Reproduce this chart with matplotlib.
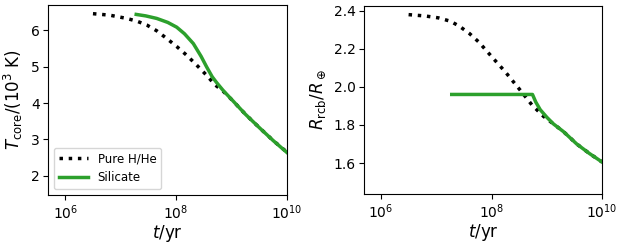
import numpy as np
import matplotlib
matplotlib.use("Agg")
import matplotlib.pyplot as plt

# log10(t/yr) and values
logt_hhe_T = [6.50, 6.80, 7.11, 7.30, 7.47, 7.65, 7.83, 8.01, 8.19, 8.37, 8.55, 8.70, 8.85, 9.03, 9.25, 9.51, 9.75, 10.0]
T_hhe = [6.45, 6.41, 6.32, 6.24, 6.14, 5.98, 5.77, 5.55, 5.31, 5.04, 4.76, 4.50, 4.32, 4.05, 3.69, 3.31, 2.97, 2.65]

logt_sil_T = [7.28, 7.45, 7.65, 7.85, 8.01, 8.15, 8.31, 8.45, 8.55, 8.65, 8.73, 8.85, 9.03, 9.25, 9.51, 9.75, 10.0]
T_sil = [6.43, 6.39, 6.32, 6.21, 6.08, 5.90, 5.63, 5.28, 4.99, 4.72, 4.56, 4.34, 4.05, 3.69, 3.31, 2.97, 2.64]

logt_hhe_R = [6.50, 6.80, 7.04, 7.25, 7.41, 7.60, 7.77, 8.01, 8.25, 8.52, 8.73, 8.94, 9.12, 9.30, 9.54, 9.77, 10.0]
R_hhe = [2.379, 2.372, 2.362, 2.345, 2.32, 2.28, 2.235, 2.156, 2.078, 1.982, 1.905, 1.845, 1.805, 1.765, 1.70, 1.65, 1.605]

logt_sil_R = [7.28, 8.00, 8.74, 8.80, 8.88, 9.00, 9.12, 9.30, 9.54, 9.77, 10.0]
R_sil = [1.96, 1.96, 1.96, 1.92, 1.88, 1.84, 1.805, 1.765, 1.70, 1.65, 1.605]

labels = ["Pure H/He", "Silicate"]
green = "#2ca02c"

fig = plt.figure(figsize=(6.24, 2.47), dpi=100)
ax1 = fig.add_axes([0.077, 0.211, 0.383, 0.769])
ax2 = fig.add_axes([0.583, 0.215, 0.382, 0.762])

ax1.plot(10**np.array(logt_hhe_T), T_hhe, ls=":", color="k", lw=2.5, label=labels[0])
ax1.plot(10**np.array(logt_sil_T), T_sil, ls="-", color=green, lw=2.5, label=labels[1])
ax2.plot(10**np.array(logt_hhe_R), R_hhe, ls=":", color="k", lw=2.5)
ax2.plot(10**np.array(logt_sil_R), R_sil, ls="-", color=green, lw=2.5)

for ax in (ax1, ax2):
    ax.set_xscale("log")
    ax.set_xlim(10**5.69, 1e10)
    ax.set_xticks([1e6, 1e8, 1e10])
    ax.minorticks_off()
    ax.tick_params(labelsize=10, pad=2.5)
    ax.set_xlabel(r"$t$/yr", fontsize=12, labelpad=1)

ax1.set_ylim(1.48, 6.69)
ax1.set_yticks([2, 3, 4, 5, 6])
ax1.set_ylabel(r"$T_{\rm core}/(10^3\ {\rm K})$", fontsize=12)
ax1.legend(loc="lower left", fontsize=8.5, handlelength=2.5)

ax2.set_ylim(1.438, 2.426)
ax2.set_yticks([1.6, 1.8, 2.0, 2.2, 2.4])
ax2.set_ylabel(r"$R_{\rm rcb}/R_\oplus$", fontsize=12)

fig.savefig("out.png", dpi=100)
